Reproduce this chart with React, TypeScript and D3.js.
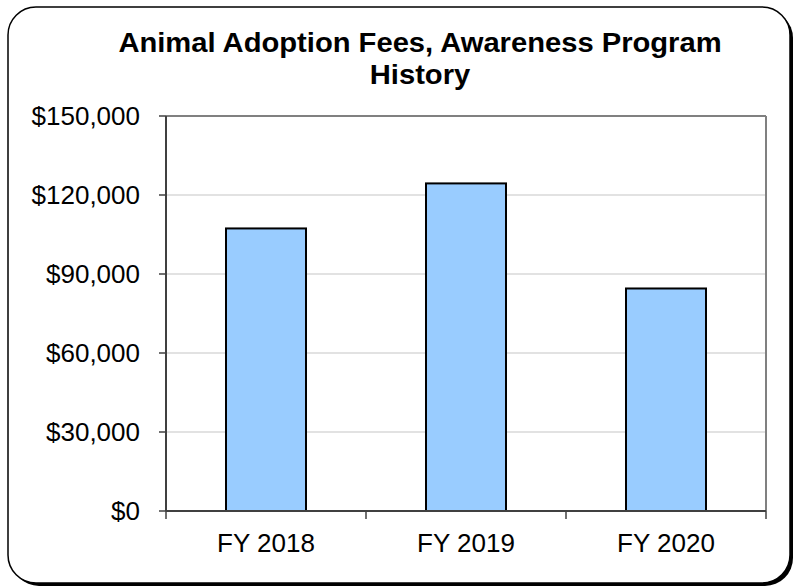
import React from "react";
import * as d3 from "d3";

const categories = ["FY 2018", "FY 2019", "FY 2020"];
const values = [107300, 124400, 84500];
const yTicks = [0, 30000, 60000, 90000, 120000, 150000];
const titleLines = ["Animal Adoption Fees, Awareness Program", "History"];

export default function App() {
  const W = 796, H = 588;
  const left = 166, right = 766, top = 116, bottom = 511;
  const x = d3.scaleBand<string>().domain(categories).range([left, right]).paddingInner(0).paddingOuter(0);
  const y = d3.scaleLinear().domain([0, 150000]).range([bottom, top]);
  const barW = x.bandwidth() * 0.4;
  const fmt = (v: number) => "$" + d3.format(",")(v);
  const font = "Liberation Sans, Arial, sans-serif";
  return (
    <svg width={W} height={H} style={{ position: "absolute", left: 0, top: 0 }} fontFamily={font}>
      <rect x={0} y={0} width={W} height={H} fill="#fff" />
      {/* shadow */}
      <rect x={11} y={10} width={782} height={576} rx={28} ry={28} fill="#000" />
      <rect x={8} y={7} width={782} height={576} rx={28} ry={28} fill="#fff" stroke="#000" strokeWidth={1.5} />
      {/* title */}
      <g transform="translate(420,0) scale(1.08,1)">
        {titleLines.map((t, i) => (
          <text key={i} x={0} y={52 + i * 32} textAnchor="middle" fontSize={27} fontWeight="bold" fill="#000">{t}</text>
        ))}
      </g>
      {/* gridlines */}
      {yTicks.filter(v => v > 0 && v < 150000).map(v => (
        <line key={v} x1={left} x2={right} y1={y(v)} y2={y(v)} stroke="#d9d9d9" strokeWidth={1.5} />
      ))}
      {/* plot frame top/right */}
      <line x1={left} x2={right} y1={top} y2={top} stroke="#808080" strokeWidth={2} />
      <line x1={right} x2={right} y1={top} y2={bottom} stroke="#808080" strokeWidth={2} />
      {/* bars */}
      {categories.map((c, i) => (
        <rect key={c} x={(x(c) as number) + (x.bandwidth() - barW) / 2} y={y(values[i])}
          width={barW} height={bottom - y(values[i])} fill="#99ccff" stroke="#000" strokeWidth={2} />
      ))}
      {/* y axis */}
      <line x1={left} x2={left} y1={top} y2={bottom} stroke="#404040" strokeWidth={2} />
      {yTicks.map(v => (
        <g key={v}>
          <line x1={left - 7} x2={left} y1={y(v)} y2={y(v)} stroke="#404040" strokeWidth={1.5} />
          <text x={left - 26} y={y(v)} dy="0.35em" textAnchor="end" fontSize={26} fill="#000">{fmt(v)}</text>
        </g>
      ))}
      {/* x axis */}
      <line x1={left} x2={right} y1={bottom} y2={bottom} stroke="#404040" strokeWidth={2} />
      {[...categories.map(c => x(c) as number), right].map((px, i) => (
        <line key={i} x1={px} x2={px} y1={bottom} y2={bottom + 8} stroke="#404040" strokeWidth={1.5} />
      ))}
      {categories.map(c => (
        <text key={c} x={(x(c) as number) + x.bandwidth() / 2} y={552} textAnchor="middle" fontSize={26} fill="#000">{c}</text>
      ))}
    </svg>
  );
}
